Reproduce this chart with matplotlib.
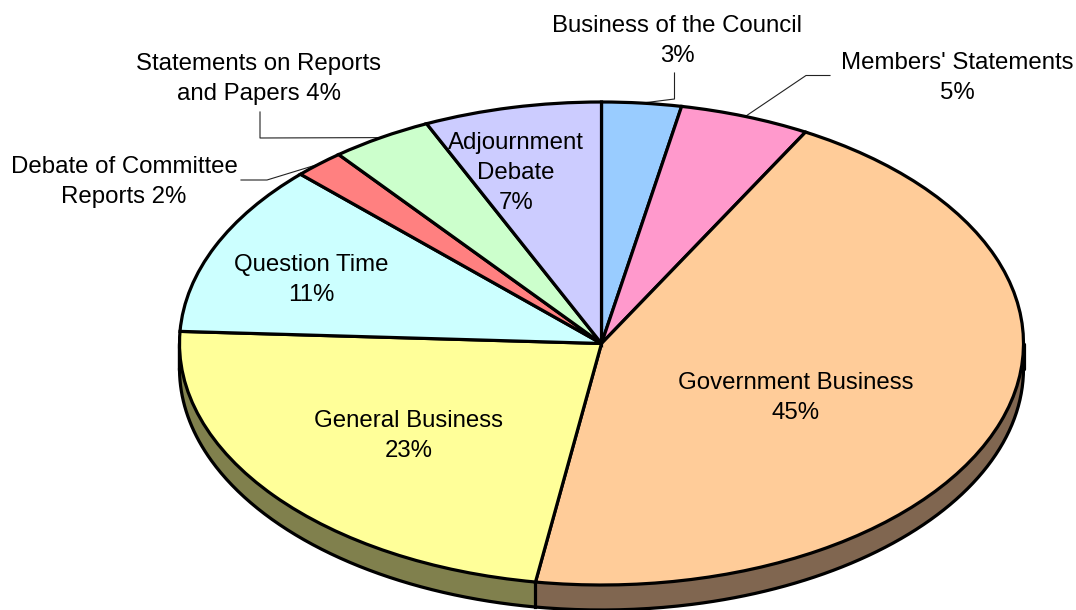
import numpy as np
import matplotlib
matplotlib.use('Agg')
import matplotlib.pyplot as plt

plt.rcParams['font.family'] = ['Liberation Sans', 'DejaVu Sans']

# share of sitting time, clockwise from the top (slice sizes)
categories = ['Business of the Council', "Members' Statements", 'Government Business',
              'General Business', 'Question Time', 'Debate of Committee Reports',
              'Statements on Reports and Papers', 'Adjournment Debate']
values = [3.04, 4.99, 44.47, 23.3, 11.56, 1.94, 3.9, 6.8]
top_colors = ['#99CCFF', '#FF99CC', '#FFCC99', '#FFFF99', '#CCFFFF', '#FF8080', '#CCFFCC', '#CCCCFF']
side_colors = ['#4D6680', '#804D66', '#806650', '#80804D', '#668080', '#804040', '#668066', '#666680']

labels = ['Business of the Council\n3%', "Members' Statements\n5%", 'Government Business\n45%',
          'General Business\n23%', 'Question Time\n11%', 'Debate of Committee\nReports 2%',
          'Statements on Reports\nand Papers 4%', 'Adjournment\nDebate\n7%']
label_pos = [(677, 38), (957, 75), (796, 395), (409, 433), (311, 277), (124, 179), (259, 76), (516, 170)]
# elbows of the leader lines, in pixels, for the labels outside the pie
leaders = {0: [(674.5, 99), (674.5, 73)],
           1: [(806, 75.5), (830, 75.5)],
           5: [(267, 180), (241, 180)],
           6: [(260, 138), (260, 112)]}

W, H = 1076, 610
CX, CY, RX, RY = 601.5, 343.5, 422, 241.5
DEPTH = 25 / RY
EDGE = 2.3
LINE_GAP = 30


def to_unit(x, y):
    """Pixel position in the picture to axes units (pie radius = 1)."""
    return (x - CX) / RX, (CY - y) / RY


fig = plt.figure(figsize=(W / 100, H / 100), dpi=100)
ax = fig.add_axes([0, 0, 1, 1])

# side wall, only the part of each slice on the front of the pie
edges = np.cumsum([0] + values) * 3.6
for i in range(len(values)):
    start, end = max(edges[i], 90), min(edges[i + 1], 270)
    if start >= end:
        continue
    t = np.radians(np.linspace(start, end, 200))
    x, y = np.sin(t), np.cos(t)
    ax.fill_between(x, y, y - DEPTH, color=side_colors[i], lw=0, zorder=1)
    ax.plot(x, y - DEPTH, color='black', lw=EDGE, zorder=2, solid_capstyle='round')
    ax.plot([x[-1], x[-1]], [y[-1], y[-1] - DEPTH], color='black', lw=EDGE, zorder=2)
ax.plot([1, 1], [0, -DEPTH], color='black', lw=EDGE, zorder=2, solid_capstyle='round')
ax.plot([-1, -1], [0, -DEPTH], color='black', lw=EDGE, zorder=2, solid_capstyle='round')

wedges, _ = ax.pie(values, colors=top_colors, startangle=90, counterclock=False, radius=1,
                   wedgeprops={'edgecolor': 'black', 'linewidth': EDGE, 'zorder': 3})

ax.set_aspect('auto')
ax.set_xlim(to_unit(0, 0)[0], to_unit(W, 0)[0])
ax.set_ylim(to_unit(0, H)[1], to_unit(0, 0)[1])
ax.axis('off')

# leader lines start at the middle of the slice's rim
for i, pts in leaders.items():
    mid = np.radians((edges[i] + edges[i + 1]) / 2)
    xs = [np.sin(mid)] + [to_unit(*p)[0] for p in pts]
    ys = [np.cos(mid)] + [to_unit(*p)[1] for p in pts]
    ax.plot(xs, ys, color='#222222', lw=0.8, zorder=2.5)

# one text per line, matplotlib's line spacing depends on the glyphs
for text, (px, py) in zip(labels, label_pos):
    lines = text.split('\n')
    for n, line in enumerate(lines):
        base = py + (n - (len(lines) - 1) / 2) * LINE_GAP + 9
        ux, uy = to_unit(px, base)
        ax.text(ux, uy, line, ha='center', va='baseline', fontsize=17.25, color='black', zorder=5)

fig.savefig('out.png', dpi=100)
